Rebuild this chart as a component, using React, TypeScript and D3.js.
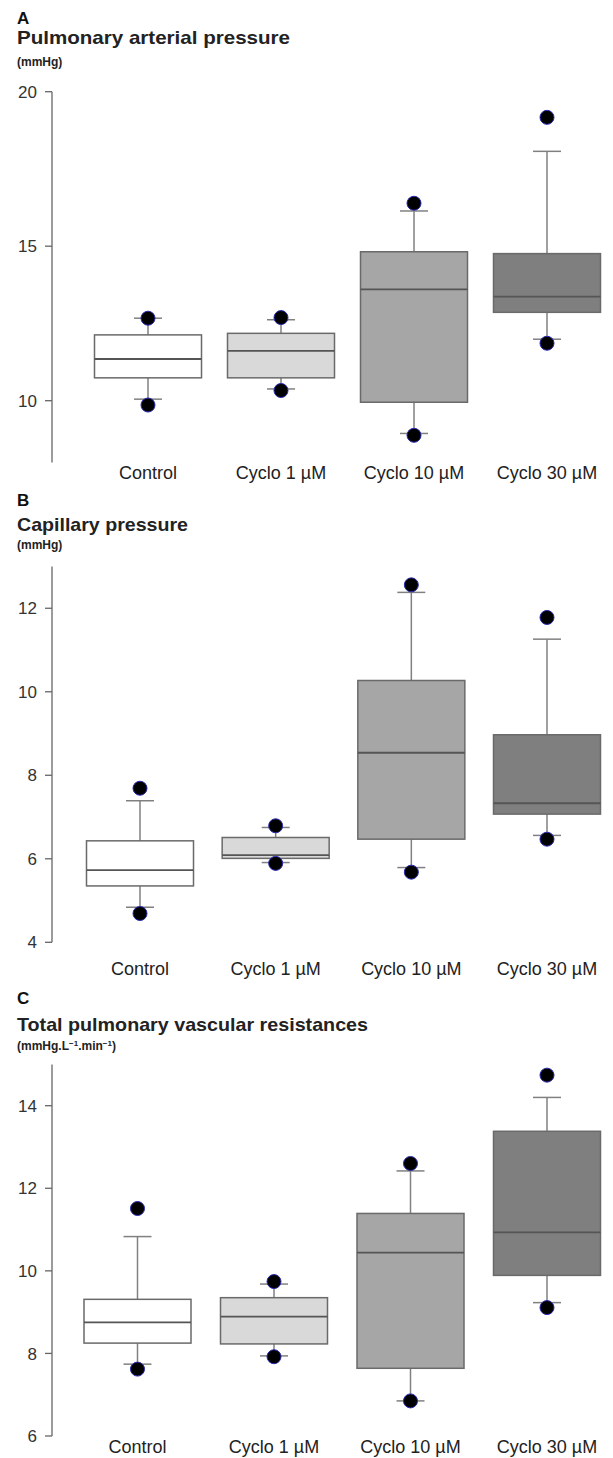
import * as d3 from 'd3';

const categories = ['Control', 'Cyclo 1 µM', 'Cyclo 10 µM', 'Cyclo 30 µM'];
const boxFills = ['#ffffff', '#d9d9d9', '#a6a6a6', '#7f7f7f'];

// A: pulmonary arterial pressure (mmHg)
const papLow = [10.05, 10.38, 8.94, 11.99];
const papQ1 = [10.74, 10.74, 9.95, 12.86];
const papMedian = [11.35, 11.61, 13.6, 13.37];
const papQ3 = [12.13, 12.18, 14.82, 14.76];
const papHigh = [12.67, 12.62, 16.14, 18.07];
const papMin = [9.86, 10.33, 8.88, 11.86];
const papMax = [12.67, 12.69, 16.39, 19.17];
const papTicks = [10, 15, 20];

// B: capillary pressure (mmHg)
const capLow = [4.84, 5.91, 5.79, 6.56];
const capQ1 = [5.35, 6.01, 6.47, 7.07];
const capMedian = [5.73, 6.09, 8.54, 7.33];
const capQ3 = [6.43, 6.51, 10.27, 8.97];
const capHigh = [7.39, 6.75, 12.38, 11.26];
const capMin = [4.69, 5.89, 5.68, 6.47];
const capMax = [7.69, 6.79, 12.56, 11.78];
const capTicks = [4, 6, 8, 10, 12];

// C: total pulmonary vascular resistances (mmHg.L-1.min-1)
const tpvrLow = [7.74, 7.94, 6.85, 9.23];
const tpvrQ1 = [8.25, 8.23, 7.64, 9.89];
const tpvrMedian = [8.75, 8.89, 10.44, 10.93];
const tpvrQ3 = [9.31, 9.35, 11.39, 13.38];
const tpvrHigh = [10.83, 9.68, 12.42, 14.2];
const tpvrMin = [7.62, 7.92, 6.85, 9.11];
const tpvrMax = [11.51, 9.74, 12.6, 14.74];
const tpvrTicks = [6, 8, 10, 12, 14];

const font = '"Liberation Sans", Arial, Helvetica, sans-serif';
const axisX = 52;
const boxWidth = 107;
const capWidth = 28;

interface PanelProps {
    letter: string;
    title: string;
    titleWidth: number;
    units: React.ReactNode;
    letterY: number;
    titleY: number;
    domain: [number, number];
    yRange: [number, number];
    xRange: [number, number];
    ticks: number[];
    labelY: number;
    low: number[];
    q1: number[];
    median: number[];
    q3: number[];
    high: number[];
    min: number[];
    max: number[];
}

function Panel(p: PanelProps) {
    const y = d3.scaleLinear().domain(p.domain).range(p.yRange);
    const x = d3.scalePoint<string>().domain(categories).range(p.xRange);

    return (
        <g fontFamily={font}>
            <text x={17} y={p.letterY} fontSize={17} fontWeight="bold" fill="#111">{p.letter}</text>
            <text x={17} y={p.titleY} fontSize={19} fontWeight="bold" fill="#222"
                textLength={p.titleWidth} lengthAdjust="spacingAndGlyphs">{p.title}</text>
            {p.units}

            {/* y axis */}
            <line x1={axisX} x2={axisX} y1={y(p.domain[0])} y2={y(p.domain[1])} stroke="#666" strokeWidth={1.3} />
            {p.ticks.map(t => (
                <g key={t} transform={`translate(0,${y(t)})`}>
                    <line x1={axisX - 7} x2={axisX} stroke="#666" strokeWidth={1.3} />
                    <text x={37} dy="0.36em" textAnchor="end" fontSize={17} fill="#333">{t}</text>
                </g>
            ))}

            {categories.map((c, i) => {
                const cx = x(c)!;
                return (
                    <g key={c}>
                        <line x1={cx} x2={cx} y1={y(p.q3[i])} y2={y(p.high[i])} stroke="#808080" strokeWidth={1.5} />
                        <line x1={cx} x2={cx} y1={y(p.q1[i])} y2={y(p.low[i])} stroke="#808080" strokeWidth={1.5} />
                        <line x1={cx - capWidth / 2} x2={cx + capWidth / 2} y1={y(p.high[i])} y2={y(p.high[i])} stroke="#808080" strokeWidth={1.5} />
                        <line x1={cx - capWidth / 2} x2={cx + capWidth / 2} y1={y(p.low[i])} y2={y(p.low[i])} stroke="#808080" strokeWidth={1.5} />
                        <rect x={cx - boxWidth / 2} width={boxWidth} y={y(p.q3[i])} height={y(p.q1[i]) - y(p.q3[i])}
                            fill={boxFills[i]} stroke="#6a6a6a" strokeWidth={1.5} />
                        <line x1={cx - boxWidth / 2} x2={cx + boxWidth / 2} y1={y(p.median[i])} y2={y(p.median[i])} stroke="#555" strokeWidth={1.8} />
                        <circle cx={cx} cy={y(p.min[i])} r={7} fill="#000" stroke="#2a2ab0" strokeWidth={1} />
                        <circle cx={cx} cy={y(p.max[i])} r={7} fill="#000" stroke="#2a2ab0" strokeWidth={1} />
                        <text x={cx} y={p.labelY} textAnchor="middle" fontSize={18} fill="#222">{c}</text>
                    </g>
                );
            })}
        </g>
    );
}

export default function App() {
    return (
        <svg width={613} height={1458} style={{ position: 'absolute', left: 0, top: 0, background: '#fff' }}>
            <Panel
                letter="A" title="Pulmonary arterial pressure" titleWidth={273} letterY={24} titleY={44}
                units={<text x={17} y={66} fontSize={12} fontWeight="bold" fill="#222" fontFamily={font}>(mmHg)</text>}
                domain={[8, 20]} yRange={[462.5, 91.7]} xRange={[148, 547]} ticks={papTicks} labelY={479}
                low={papLow} q1={papQ1} median={papMedian} q3={papQ3} high={papHigh} min={papMin} max={papMax}
            />
            <Panel
                letter="B" title="Capillary pressure" titleWidth={171} letterY={506} titleY={531}
                units={<text x={17} y={549} fontSize={12} fontWeight="bold" fill="#222" fontFamily={font}>(mmHg)</text>}
                domain={[4, 13]} yRange={[942.3, 566.5]} xRange={[140, 547]} ticks={capTicks} labelY={975}
                low={capLow} q1={capQ1} median={capMedian} q3={capQ3} high={capHigh} min={capMin} max={capMax}
            />
            <Panel
                letter="C" title="Total pulmonary vascular resistances" titleWidth={351} letterY={1004} titleY={1031}
                units={
                    <text x={17} y={1050} fontSize={12} fontWeight="bold" fill="#222" fontFamily={font}>
                        (mmHg.L<tspan dy={-4} fontSize={8}>−1</tspan><tspan dy={4}>.min</tspan><tspan dy={-4} fontSize={8}>−1</tspan><tspan dy={4}>)</tspan>
                    </text>
                }
                domain={[6, 15]} yRange={[1436, 1064.4]} xRange={[137.5, 547]} ticks={tpvrTicks} labelY={1453}
                low={tpvrLow} q1={tpvrQ1} median={tpvrMedian} q3={tpvrQ3} high={tpvrHigh} min={tpvrMin} max={tpvrMax}
            />
        </svg>
    );
}
